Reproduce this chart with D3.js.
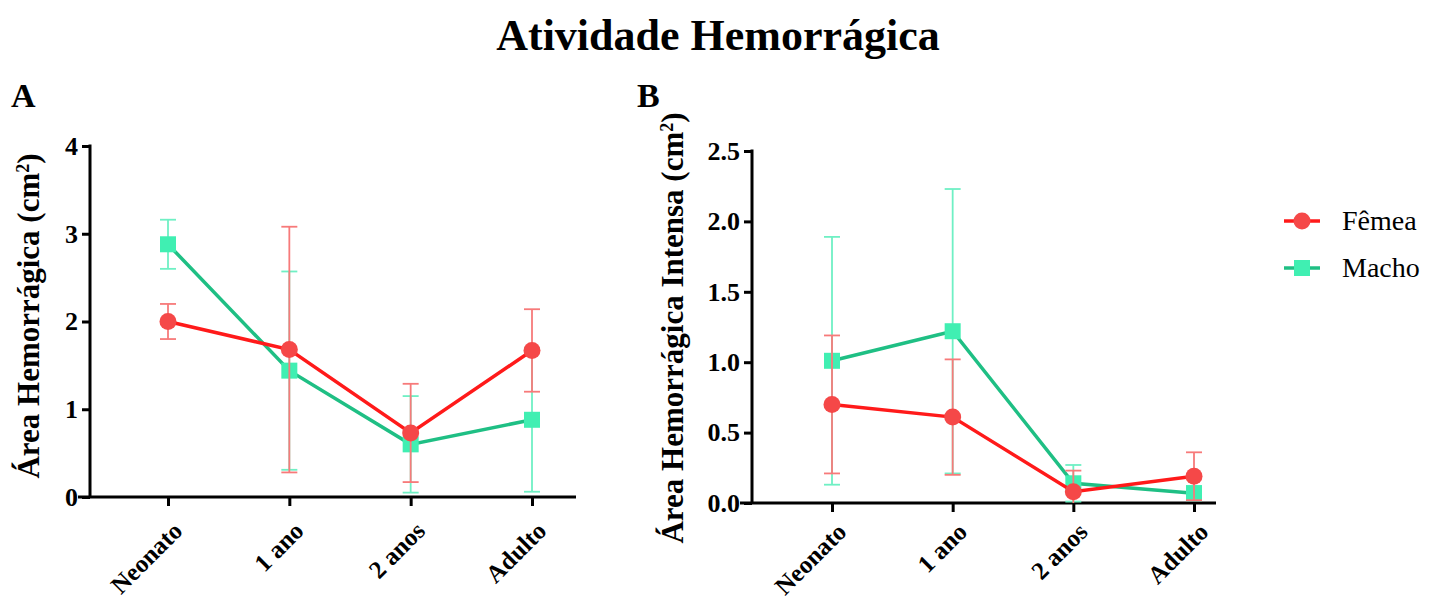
<!DOCTYPE html>
<html>
<head>
<meta charset="utf-8">
<script src="https://cdn.jsdelivr.net/npm/d3@7"></script>
<style>
  body { margin: 0; background: #fff; }
</style>
</head>
<body>
<svg id="chart" width="1429" height="601"></svg>
<script>
// data
const categories = ["Neonato", "1 ano", "2 anos", "Adulto"];
const seriesNames = ["Fêmea", "Macho"];

// panel A: area hemorragica (mean, sd)
const femeaA = [2.0, 1.68, 0.73, 1.67];
const femeaA_sd = [0.2, 1.4, 0.56, 0.47];
const machoA = [2.88, 1.44, 0.6, 0.88];
const machoA_sd = [0.28, 1.13, 0.55, 0.82];

// panel B: area hemorragica intensa
const femeaB = [0.7, 0.61, 0.08, 0.19];
const femeaB_sd = [0.49, 0.41, 0.15, 0.17];
const machoB = [1.01, 1.22, 0.14, 0.07];
const machoB_sd = [0.88, 1.01, 0.13, 0.05];

const ticksA = [0, 1, 2, 3, 4];
const ticksB = [0, 0.5, 1.0, 1.5, 2.0, 2.5];

const FONT = '"Liberation Serif", "Times New Roman", serif';

const colors = {
  "Fêmea": { line: "#ff1a1a", mark: "#f54848", err: "#f77a7a" },
  "Macho": { line: "#1fbf84", mark: "#40efb2", err: "#6ff0c4" }
};

const svg = d3.select("#chart");

// title + panel letters
svg.append("text")
  .attr("x", 718).attr("y", 50)
  .attr("text-anchor", "middle")
  .style("font-family", FONT)
  .style("font-size", "44px").style("font-weight", "bold")
  .text("Atividade Hemorrágica");

svg.append("text").attr("x", 11).attr("y", 107)
  .style("font-family", FONT)
  .style("font-size", "34px").style("font-weight", "bold").text("A");
svg.append("text").attr("x", 637).attr("y", 107)
  .style("font-family", FONT)
  .style("font-size", "34px").style("font-weight", "bold").text("B");

function drawPanel(opts) {
  const g = svg.append("g");
  const x = d3.scalePoint().domain(categories).range([opts.x0, opts.x1]);
  const y = d3.scaleLinear().domain([0, opts.ymax]).range([opts.yBottom, opts.yTop]);

  // y axis
  const yAxis = g.append("g")
    .attr("transform", `translate(${opts.axisX},0)`)
    .call(d3.axisLeft(y).tickValues(opts.ticks).tickFormat(opts.fmt).tickSize(8).tickPadding(4));
  yAxis.select(".domain").remove();
  yAxis.selectAll(".tick line").attr("stroke", "#000").attr("stroke-width", 3);
  yAxis.selectAll("text")
    .style("font-family", FONT)
    .style("font-size", "26px").style("font-weight", "bold").attr("fill", "#000");
  g.append("line")
    .attr("x1", opts.axisX).attr("x2", opts.axisX)
    .attr("y1", y(opts.ymax) - 1.5).attr("y2", opts.yBottom)
    .attr("stroke", "#000").attr("stroke-width", 3);

  // x axis
  const xAxis = g.append("g")
    .attr("transform", `translate(0,${opts.yBottom})`)
    .call(d3.axisBottom(x).tickSize(9).tickPadding(6));
  xAxis.select(".domain").remove();
  xAxis.selectAll(".tick line").attr("stroke", "#000").attr("stroke-width", 3);
  xAxis.selectAll("text")
    .style("font-family", FONT)
    .style("font-size", "25px").style("font-weight", "bold").attr("fill", "#000")
    .attr("text-anchor", "end")
    .attr("x", 0).attr("y", 0).attr("dy", "0.7em")
    .attr("transform", `translate(3,${opts.labelDrop}) rotate(-45)`);
  g.append("line")
    .attr("x1", opts.xStart).attr("x2", opts.xEnd)
    .attr("y1", opts.yBottom).attr("y2", opts.yBottom)
    .attr("stroke", "#000").attr("stroke-width", 3);

  // y label
  g.append("text")
    .attr("transform", `translate(${opts.labelX},${opts.labelY}) rotate(-90)`)
    .attr("text-anchor", "middle")
    .style("font-family", FONT)
    .style("font-size", "31px").style("font-weight", "bold")
    .html(opts.label);

  // series, macho first so femea sits on top
  const series = [
    { name: "Macho", vals: opts.macho, sd: opts.machoSd },
    { name: "Fêmea", vals: opts.femea, sd: opts.femeaSd }
  ];

  series.forEach((s) => {
    const c = colors[s.name];
    const pts = categories.map((cat, i) => ({ cat, v: s.vals[i], sd: s.sd[i] }));
    const clampY = (v) => y(Math.max(0, Math.min(opts.ymax, v)));

    // error bars
    const eb = g.append("g").attr("stroke", c.err).attr("stroke-width", 1.8);
    pts.forEach((d) => {
      const hi = d.v + d.sd, lo = d.v - d.sd;
      eb.append("line").attr("x1", x(d.cat)).attr("x2", x(d.cat))
        .attr("y1", clampY(lo)).attr("y2", y(hi));
      eb.append("line").attr("x1", x(d.cat) - 8).attr("x2", x(d.cat) + 8)
        .attr("y1", y(hi)).attr("y2", y(hi));
      if (lo >= 0) {
        eb.append("line").attr("x1", x(d.cat) - 8).attr("x2", x(d.cat) + 8)
          .attr("y1", y(lo)).attr("y2", y(lo));
      }
    });

    g.append("path")
      .datum(pts)
      .attr("fill", "none")
      .attr("stroke", c.line)
      .attr("stroke-width", 3.5)
      .attr("d", d3.line().x((d) => x(d.cat)).y((d) => y(d.v)));

    if (s.name === "Fêmea") {
      g.selectAll(null).data(pts).enter().append("circle")
        .attr("cx", (d) => x(d.cat)).attr("cy", (d) => y(d.v))
        .attr("r", 8.5).attr("fill", c.mark);
    } else {
      g.selectAll(null).data(pts).enter().append("rect")
        .attr("x", (d) => x(d.cat) - 8).attr("y", (d) => y(d.v) - 8)
        .attr("width", 16).attr("height", 16).attr("fill", c.mark);
    }
  });
}

drawPanel({
  x0: 168, x1: 532, axisX: 90, xStart: 78, xEnd: 576,
  yTop: 146, yBottom: 497, ymax: 4, ticks: ticksA, fmt: d3.format("d"),
  labelX: 39, labelY: 316, labelDrop: 23,
  label: "Área Hemorrágica (cm<tspan baseline-shift='super' font-size='18px'>2</tspan>)",
  femea: femeaA, femeaSd: femeaA_sd, macho: machoA, machoSd: machoA_sd
});

drawPanel({
  x0: 832, x1: 1194, axisX: 752, xStart: 740, xEnd: 1216,
  yTop: 151, yBottom: 503, ymax: 2.5, ticks: ticksB, fmt: d3.format(".1f"),
  labelX: 683, labelY: 328, labelDrop: 18,
  label: "Área Hemorrágica Intensa (cm<tspan baseline-shift='super' font-size='18px'>2</tspan>)",
  femea: femeaB, femeaSd: femeaB_sd, macho: machoB, machoSd: machoB_sd
});

// legend
const legend = svg.append("g");
seriesNames.forEach((name, i) => {
  const c = colors[name];
  const ly = 221 + i * 47;
  legend.append("line").attr("x1", 1284).attr("x2", 1320).attr("y1", ly).attr("y2", ly)
    .attr("stroke", c.line).attr("stroke-width", 3.5);
  if (name === "Fêmea") {
    legend.append("circle").attr("cx", 1302).attr("cy", ly).attr("r", 8.5).attr("fill", c.mark);
  } else {
    legend.append("rect").attr("x", 1294).attr("y", ly - 8).attr("width", 16).attr("height", 16).attr("fill", c.mark);
  }
  legend.append("text").attr("x", 1342).attr("y", ly + 9)
    .style("font-family", FONT)
    .style("font-size", "28px").text(name);
});
</script>
</body>
</html>
